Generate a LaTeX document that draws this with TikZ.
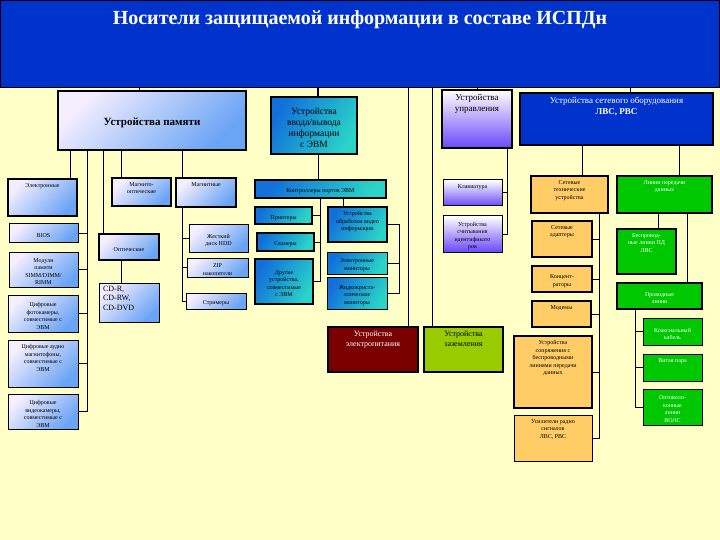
\documentclass[tikz,border=0pt]{standalone}
\usepackage{fontspec}
\setmainfont{Liberation Serif}
\begin{document}
\begin{tikzpicture}[x=1pt,y=-1pt,
  every node/.style={inner sep=0pt,outer sep=0pt},
  conn/.style={draw=black,line width=1pt},
  thk/.style={draw=black,line width=2.2pt},
  thn/.style={draw=black,line width=1pt},
  memfill/.style={top color=memtop,bottom color=membot,shading angle=45},
  iofill/.style={top color=iotop,bottom color=iobot,shading angle=60},
  ctlfill/.style={top color=white,bottom color=ctlbot},
  orfill/.style={fill=orangebox},
  grfill/.style={fill=greenbox,text=white},
  sm/.style={font=\fontsize{6}{7.5}\selectfont}
]
\definecolor{bgyellow}{HTML}{FFFFC8}
\definecolor{bannerblue}{HTML}{0033CC}
\definecolor{memtop}{HTML}{F4EEFF}
\definecolor{membot}{HTML}{6AA4F4}
\definecolor{iotop}{HTML}{1270DA}
\definecolor{iobot}{HTML}{2AD4C8}
\definecolor{ctlbot}{HTML}{6A48FA}
\definecolor{orangebox}{HTML}{FFCC66}
\definecolor{greenbox}{HTML}{00C800}
\definecolor{powerred}{HTML}{7A0000}
\definecolor{groundgreen}{HTML}{99CC00}
\newcommand\bx[8]{\node[#6,anchor=north west] (#1) at (#2,#3) {\parbox[c][\dimexpr #5pt-#3pt\relax][#7]{\dimexpr #4pt-#2pt\relax}{\centering\vspace*{4.5pt}#8\par}};}
\useasboundingbox (0,0) rectangle (720,540);
\fill[bgyellow] (0,0) rectangle (720,540);
% banner
\node[fill=bannerblue,draw=black,line width=1.5pt,minimum width=719pt,minimum height=87pt,anchor=north west] (ban) at (0.5,0.5) {};
\node[text=white,font=\bfseries\fontsize{20}{23}\selectfont] (title) at (360,20) {Носители защищаемой информации в составе ИСПДн};
% memory
\bx{mem}{58}{91}{246}{150}{thk,memfill,font=\bfseries\fontsize{11}{13}\selectfont}{c}{Устройства памяти}
\bx{el}{8}{179}{77}{216}{thk,memfill,sm}{t}{Электронные}
\bx{mo}{112}{178}{171}{206}{thk,memfill,sm}{t}{Магнито-\\оптические}
\bx{mag}{176}{178}{236}{207}{thk,memfill,sm}{t}{Магнитные}
\bx{bios}{9}{224}{78}{242}{thn,memfill,sm}{c}{BIOS}
\bx{mod}{9}{252}{78}{287}{thn,memfill,sm}{c}{Модули\\памяти\\SIMM/DIMM/\\RIMM}
\bx{photo}{8}{295}{78}{332}{thn,memfill,sm}{c}{Цифровые\\фотокамеры,\\совместимые с\\ЭВМ}
\bx{audio}{8}{340}{78}{387}{thn,memfill,sm}{t}{Цифровые аудио\\магнитофоны,\\совместимые с\\ЭВМ}
\bx{video}{8}{394}{78}{429}{thn,memfill,sm}{c}{Цифровые\\видеокамеры,\\совместимые с\\ЭВМ}
\bx{opt}{99}{234}{159}{260}{thk,memfill,sm}{c}{Оптические}
\node[thn,memfill,anchor=north west,font=\fontsize{8}{9.5}\selectfont] (cd) at (99,283) {\parbox[c][39pt][t]{60pt}{\vspace*{3pt}\hspace*{4pt}CD-R,\\\hspace*{4pt}CD-RW,\\\hspace*{4pt}CD-DVD}};
\bx{hdd}{189}{225}{248}{252}{thn,memfill,sm}{c}{Жесткий\\диск HDD}
\bx{zip}{187}{258}{248}{277}{thn,memfill,sm}{c}{ZIP\\накопители}
\bx{str}{186}{293}{246}{309}{thn,memfill,sm}{c}{Стримеры}
% I/O
\bx{io}{271}{97}{357}{154}{thk,iofill,font=\fontsize{9.5}{11}\selectfont}{c}{Устройства\\ввода/вывода\\информации\\с ЭВМ}
\bx{kp}{255}{180}{386}{198}{thk,iofill,sm}{c}{Контроллеры портов ЭВМ}
\bx{prn}{255}{207}{312}{224}{thk,iofill,sm}{c}{Принтеры}
\bx{scn}{257}{233}{314}{251}{thk,iofill,sm}{c}{Сканеры}
\bx{oth}{255}{259}{313}{304}{thk,iofill,sm}{c}{Другие\\устройства,\\совместимые\\с ЭВМ}
\bx{proc}{328}{207}{387}{242}{thk,iofill,sm}{t}{Устройства\\обработки видео\\информации}
\bx{em}{327}{252}{387}{274}{thn,iofill,sm}{c}{Электронные\\мониторы}
\bx{lcd}{327}{277}{387}{309}{thn,iofill,sm}{c}{Жидкокриста-\\ллические\\мониторы}
% power / ground
\bx{pw}{328}{327}{418}{372}{thk,fill=powerred,text=white,font=\fontsize{8}{10}\selectfont}{t}{Устройства\\электропитания}
\bx{gnd}{424}{327}{503}{372}{thk,fill=groundgreen,font=\fontsize{8}{10}\selectfont}{t}{Устройства\\заземления}
% control
\bx{ctl}{442}{90}{512}{148}{thk,ctlfill,font=\fontsize{9}{11}\selectfont}{t}{Устройства\\управления}
\bx{kb}{443}{180}{502}{206}{thn,ctlfill,sm}{t}{Клавиатура}
\bx{ids}{443}{216}{502}{252}{thn,ctlfill,sm}{c}{Устройства\\считывания\\идентификато\\ров}
% network
\bx{net}{520}{93}{713}{145}{thk,fill=bannerblue,text=white,font=\fontsize{9}{11}\selectfont}{t}{Устройства сетевого оборудования\\\textbf{ЛВС, РВС}}
\bx{ntech}{531}{176}{608}{213}{thk,orfill,sm}{t}{Сетевые\\технические\\устройства}
\bx{nad}{532}{221}{592}{257}{thk,orfill,sm}{t}{Сетевые\\адаптеры}
\bx{hub}{532}{266}{592}{292}{thk,orfill,sm}{c}{Концент-\\раторы}
\bx{mdm}{532}{301}{591}{327}{thk,orfill,sm}{t}{Модемы}
\bx{wif}{514}{336}{592}{408}{thk,orfill,sm}{t}{Устройства\\сопряжения с\\беспроводными\\линиями передачи\\данных}
\bx{amp}{514}{415}{592}{461}{thn,orfill,sm}{t}{Усилители радио\\сигналов\\ЛВС, РВС}
\bx{lines}{617}{176}{712}{213}{thk,grfill,sm}{t}{Линии передачи\\данных}
\bx{wl}{617}{229}{676}{274}{thk,grfill,sm}{t}{Беспровод-\\ные линии ПД\\ЛВС}
\bx{wired}{617}{283}{702}{309}{thk,grfill,sm}{c}{Проводные\\линии}
\bx{coax}{643}{318}{702}{345}{thn,grfill,sm}{c}{Коаксиальный\\кабель}
\bx{twp}{643}{354}{702}{381}{thn,grfill,sm}{t}{Витая пара}
\bx{opto}{643}{389}{702}{425}{thn,grfill,sm}{c}{Оптоволо-\\конные\\линии\\ВОЛС}
% coordinates for connector columns
\coordinate (xmem) at (139,0);
\coordinate (xio) at (318,0);
\coordinate (xpw) at (408,0);
\coordinate (xgnd) at (432,0);
\coordinate (xnet) at (630,0);
\coordinate (xel) at (70,0);
\coordinate (xeb) at (87,0);
\coordinate (xopt) at (103,0);
\coordinate (xmo) at (121,0);
\coordinate (xmag) at (182,0);
\coordinate (xkp1) at (320,0);
\coordinate (xkp2) at (343,0);
\coordinate (xmon) at (399,0);
\coordinate (xctl) at (507,0);
\coordinate (xnt) at (582,0);
\coordinate (xnb) at (599,0);
\coordinate (xln) at (679,0);
\coordinate (xwl) at (658,0);
\coordinate (xwd) at (687,0);
\coordinate (xwb) at (635,0);
% top connectors
\draw[conn] (ban.south -| xmem) -- (mem.north -| xmem);
\draw[conn,line width=1.8pt] (ban.south -| xio) -- (io.north -| xio);
\draw[conn] (ban.south -| xpw) -- (pw.north -| xpw);
\draw[conn] (ban.south -| xgnd) -- (gnd.north -| xgnd);
\draw[conn] (ban.south -| ctl.north) -- (ctl.north);
\draw[conn] (ban.south -| xnet) -- (net.north -| xnet);
% memory connectors
\draw[conn] (mem.south -| xel) -- (el.north -| xel);
\draw[conn] (mem.south -| xeb) |- (video.east);
\draw[conn] (xeb |- bios.east) -- (bios.east);
\draw[conn] (xeb |- mod.east) -- (mod.east);
\draw[conn] (xeb |- photo.east) -- (photo.east);
\draw[conn] (xeb |- audio.east) -- (audio.east);
\draw[conn] (mem.south -| xopt) -- (opt.north -| xopt);
\draw[conn] (mem.south -| xmo) -- (mo.north -| xmo);
\draw[conn] (opt.south -| xmo) -- (cd.north -| xmo);
\draw[conn] (mem.south -| xmag) -- (mag.north -| xmag);
\draw[conn] (mag.south -| xmag) |- (str.west);
\draw[conn] (xmag |- hdd.west) -- (hdd.west);
\draw[conn] (xmag |- zip.west) -- (zip.west);
% I/O connectors
\draw[conn] (io.south -| xio) -- (kp.north -| xio);
\draw[conn] (kp.south -| xkp1) |- (oth.east);
\draw[conn] (xkp1 |- prn.east) -- (prn.east);
\draw[conn] (xkp1 |- scn.east) -- (scn.east);
\draw[conn] (kp.south -| xkp2) -- (proc.north -| xkp2);
\draw[conn] (proc.east) -| (xmon |- lcd.east) -- (lcd.east);
\draw[conn] (xmon |- em.east) -- (em.east);
% control connectors
\draw[conn] (ctl.south -| xctl) |- (ids.east);
\draw[conn] (xctl |- kb.east) -- (kb.east);
% network connectors
\draw[conn] (net.south -| xnt) -- (ntech.north -| xnt);
\draw[conn] (net.south -| xln) -- (lines.north -| xln);
\draw[conn] (ntech.south -| xnb) |- (amp.east);
\draw[conn] (xnb |- nad.east) -- (nad.east);
\draw[conn] (xnb |- hub.east) -- (hub.east);
\draw[conn] (xnb |- mdm.east) -- (mdm.east);
\draw[conn] (xnb |- wif.east) -- (wif.east);
\draw[conn] (lines.south -| xwl) -- (wl.north -| xwl);
\draw[conn] (lines.south -| xwd) -- (wired.north -| xwd);
\draw[conn] (wired.south -| xwb) |- (opto.west);
\draw[conn] (xwb |- coax.west) -- (coax.west);
\draw[conn] (xwb |- twp.west) -- (twp.west);
\end{tikzpicture}
\end{document}
